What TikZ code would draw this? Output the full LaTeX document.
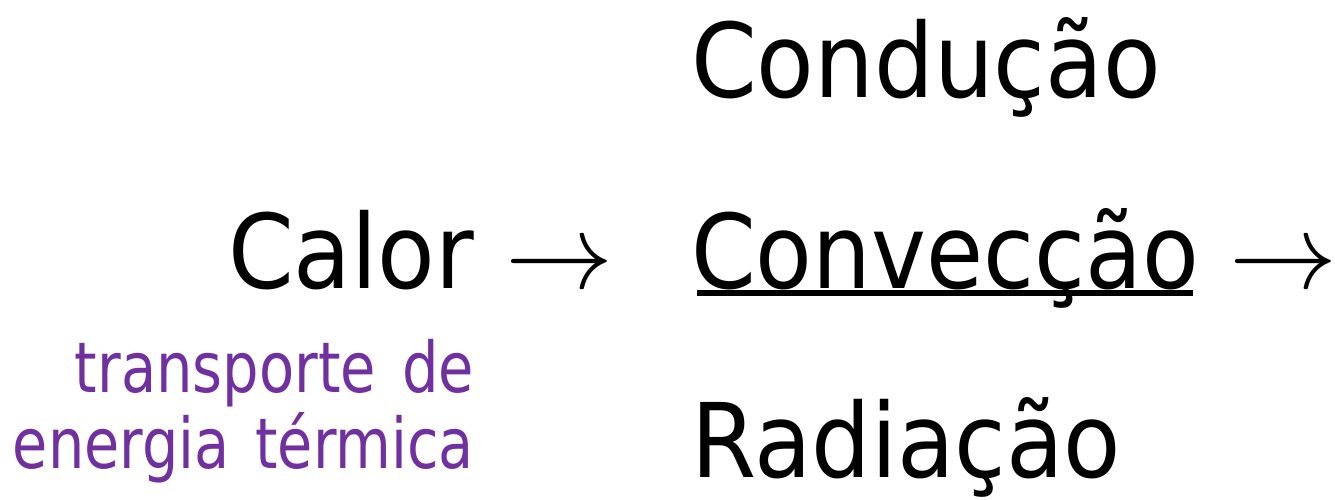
\documentclass[tikz,border=0pt]{standalone}
\usepackage{fontspec}
\setmainfont{DejaVu Sans}
\usepackage{graphicx}
\definecolor{termpurple}{HTML}{7030A0}
\newcommand{\fitwidth}[2]{\resizebox{#1}{\height}{#2}}
\tikzset{
  big/.style={inner sep=0pt, outer sep=0pt, anchor=base west, font=\fontsize{51.5pt}{60pt}\selectfont, text=black},
  small/.style={inner sep=0pt, outer sep=0pt, anchor=base west, font=\fontsize{35pt}{40pt}\selectfont, text=termpurple},
  arrowglyph/.style={inner sep=0pt, outer sep=0pt, anchor=base west}
}
\tikzset{uline/.style={line width=2.6pt, black}}
\begin{document}
\begin{tikzpicture}[x=0.5pt,y=-0.5pt]
\useasboundingbox (0,0) rectangle (1335,499);
\node[big] (calor) at (228,288) {\fitwidth{123pt}{Calor}};
\node[arrowglyph] (arr1) at (505,288) {\scalebox{5.4}{$\rightarrow$}};
\node[big] (conducao) at (691,97) {\fitwidth{235pt}{Condução}};
\node[big] (conveccao) at (691,288) {\fitwidth{254pt}{Convecção}};
\node[arrowglyph] (arr2) at (1229,288) {\scalebox{5.4}{$\rightarrow$}};
\node[big] (radiacao) at (691,477) {\fitwidth{215pt}{Radiação}};
\node[small] (transp) at (75,392) {\fitwidth{199.5pt}{transporte\hspace{0.45em}de}};
\node[small] (energia) at (13,468) {\fitwidth{230.5pt}{energia\hspace{0.45em}térmica}};
\coordinate (ulA) at (697,293);
\coordinate (ulB) at (1193,293);
\draw[uline] (ulA) -- (ulB);
\end{tikzpicture}
\end{document}
